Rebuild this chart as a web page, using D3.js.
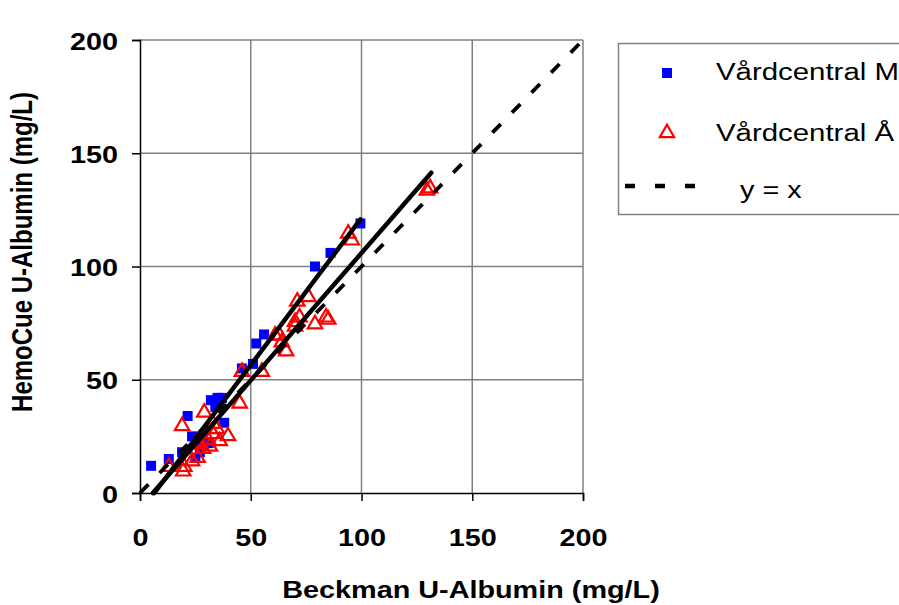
<!DOCTYPE html>
<html><head><meta charset="utf-8">
<script src="https://cdn.jsdelivr.net/npm/d3@7"></script>
<style>body{margin:0;background:#fff}svg{display:block}text{font-family:"Liberation Sans",Arial,sans-serif}</style>
</head><body>
<script>
const xTicks = [0, 50, 100, 150, 200];
const yTicks = [0, 50, 100, 150, 200];
const seriesNames = ["Vårdcentral M", "Vårdcentral Å", "y = x"];
const xTitle = "Beckman U-Albumin (mg/L)";
const yTitle = "HemoCue U-Albumin (mg/L)";
// Vårdcentral M (blue squares) [x, y]
const seriesM = [[5,12],[13,15],[19,18],[21.5,34],[23.5,25],[25,15.5],[27,18],[28.5,21],[31,22],[32,41],[34,38],[35,42],[37,42],[38,31],[46,55],[51,57],[52.5,66],[56,70],[79,100],[86,106],[99.5,119]];
// Vårdcentral Å (red triangles) [x, y]
const seriesA = [[13,12],[19.5,10],[20,12],[19,30],[23.5,14.5],[26,16],[25.7,23],[27,22],[28.5,20],[29,36],[30.7,24],[31.6,21],[33,31],[33,26.5],[34.7,28.7],[36,23.4],[39.7,25.6],[45,40],[46,54],[55,54],[61,70],[63,70],[64,67],[66,63],[70,74],[70,76],[72,78],[71,85],[76,87],[79,75],[84,78],[85,77],[94,115],[95.6,112],[129.5,134],[131,135]];
// fitted lines
const fitM = [[6.5,0],[99.5,120.8]];
const fitA = [[5.8,0],[131.5,141.4]];
const identity = [[0,0],[200,200]];

const W = 899, H = 605, SX = 1.2;
const svg = d3.select("body").append("svg").attr("width", W).attr("height", H);
const x = d3.scaleLinear().domain([0,200]).range([140,583]);
const y = d3.scaleLinear().domain([0,200]).range([493,40]);

// grid
const g = svg.append("g");
g.selectAll("line.gx").data(xTicks.slice(1)).join("line")
  .attr("x1", d=>x(d)).attr("x2", d=>x(d)).attr("y1", y(0)).attr("y2", y(200))
  .attr("stroke", "#808080").attr("stroke-width", 1.5);
g.selectAll("line.gy").data(yTicks.slice(1)).join("line")
  .attr("y1", d=>y(d)).attr("y2", d=>y(d)).attr("x1", x(0)).attr("x2", x(200))
  .attr("stroke", "#808080").attr("stroke-width", 1.5);

// axes
const xAxis = d3.axisBottom(x).tickValues(xTicks).tickSize(8);
const yAxis = d3.axisLeft(y).tickValues(yTicks).tickSize(8);
const gx = svg.append("g").attr("transform", `translate(0,${y(0)})`).call(xAxis);
const gy = svg.append("g").attr("transform", `translate(${x(0)},0)`).call(yAxis);
[gx, gy].forEach(a => {
  a.select(".domain").attr("stroke", "#000").attr("stroke-width", 1.5);
  a.selectAll(".tick line").attr("stroke", "#000").attr("stroke-width", 1.5);
  a.selectAll(".tick text").attr("fill", "#000").style("font-size", "24px").style("font-weight", "bold")
    .style("font-family", '"Liberation Sans", Arial, sans-serif').attr("x", 0).attr("y", 0).attr("dy", null);
});
gx.selectAll(".tick text").attr("transform", `translate(0,53) scale(${SX},1)`);
gy.selectAll(".tick text").attr("transform", `translate(-22,9) scale(${SX},1)`);

// markers
svg.append("g").selectAll("rect").data(seriesM).join("rect")
  .attr("x", d=>x(d[0])-5).attr("y", d=>y(d[1])-5).attr("width", 10).attr("height", 10)
  .attr("fill", "#0000ff");
const tri = d3.symbol().type(d3.symbolTriangle).size(90);
svg.append("g").selectAll("path").data(seriesA).join("path")
  .attr("d", tri).attr("transform", d=>`translate(${x(d[0])},${y(d[1])+1})`)
  .attr("fill", "none").attr("stroke", "#ff0000").attr("stroke-width", 2.2);

// lines
const line = d3.line().x(d=>x(d[0])).y(d=>y(d[1]));
svg.append("path").attr("d", line(identity)).attr("fill","none").attr("stroke","#000")
  .attr("stroke-width", 3.8).attr("stroke-dasharray", "12,16");
[fitM, fitA].forEach(f => svg.append("path").attr("d", line(f)).attr("fill","none")
  .attr("stroke","#000").attr("stroke-width", 4.5).attr("stroke-linecap","round"));

// axis titles
svg.append("text").attr("transform", `translate(471,598) scale(${SX},1)`).attr("text-anchor","middle")
  .style("font-size","24px").style("font-weight","bold").text(xTitle);
svg.append("text").attr("transform",`translate(32,252) scale(${SX},1) rotate(-90)`).attr("text-anchor","middle")
  .style("font-size","24px").style("font-weight","bold").text(yTitle);

// legend
const lg = svg.append("g");
lg.append("rect").attr("x", 618.5).attr("y", 43.5).attr("width", 300).attr("height", 171)
  .attr("fill","#fff").attr("stroke","#808080").attr("stroke-width",1.5);
lg.append("rect").attr("x", 662).attr("y", 68).attr("width", 10).attr("height", 10).attr("fill","#0000ff");
lg.append("path").attr("d", d3.symbol().type(d3.symbolTriangle).size(90))
  .attr("transform","translate(667,133)").attr("fill","none").attr("stroke","#ff0000").attr("stroke-width",2.2);
lg.append("line").attr("x1",625).attr("x2",697).attr("y1",186).attr("y2",186)
  .attr("stroke","#000").attr("stroke-width",4.5).attr("stroke-dasharray","10,20");
lg.append("text").attr("transform",`translate(716,80) scale(${SX},1)`).style("font-size","24.5px").text(seriesNames[0]);
lg.append("text").attr("transform",`translate(716,141) scale(${SX},1)`).style("font-size","24.5px").text(seriesNames[1]);
lg.append("text").attr("transform",`translate(740,198) scale(${SX},1)`).style("font-size","24px").text(seriesNames[2]);
</script>
</body></html>
